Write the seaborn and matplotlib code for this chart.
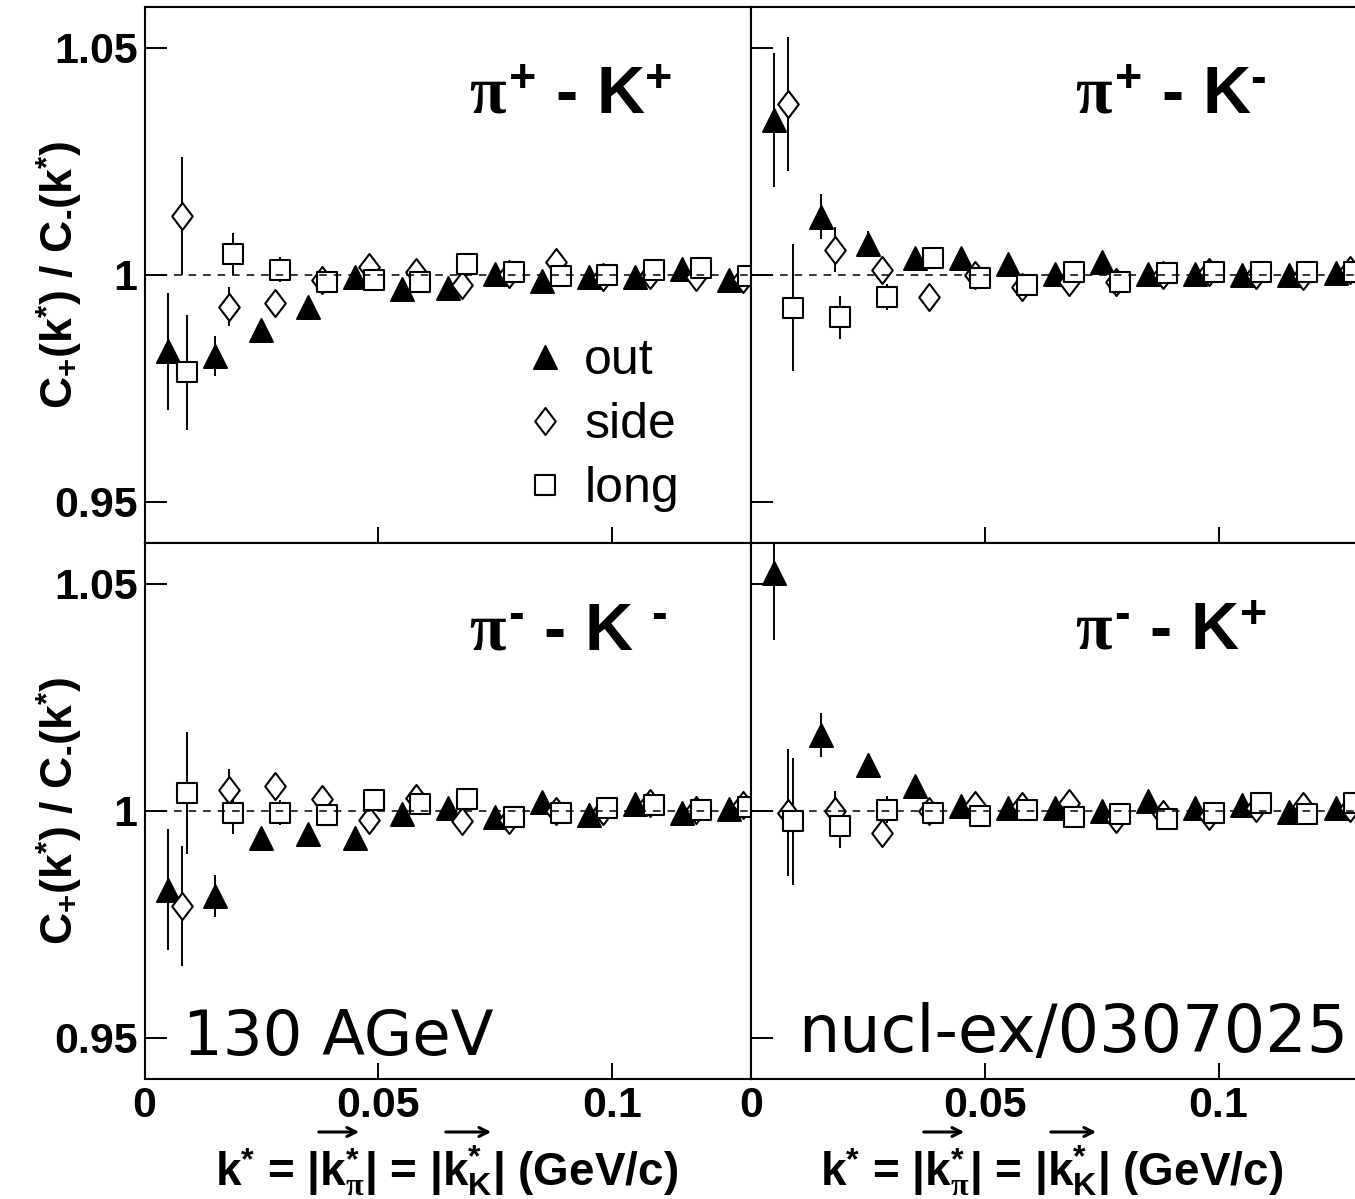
import matplotlib
matplotlib.use("Agg")
import numpy as np
import pandas as pd
import matplotlib.pyplot as plt
from matplotlib.path import Path
from matplotlib.patches import FancyArrowPatch
import seaborn as sns

# ---- bin centres of k* (GeV/c), slightly offset per projection ----
K_OUT = [0.005, 0.015, 0.025, 0.035, 0.045, 0.055, 0.065, 0.075, 0.085, 0.095, 0.105, 0.115, 0.125]
K_SIDE = [0.008, 0.018, 0.028, 0.038, 0.048, 0.058, 0.068, 0.078, 0.088, 0.098, 0.108, 0.118, 0.128]
K_LONG = [0.009, 0.019, 0.029, 0.039, 0.049, 0.059, 0.069, 0.079, 0.089, 0.099, 0.109, 0.119, 0.129]

# ---- pi+ K+ ----
PPKP_OUT = [0.9831, 0.9820, 0.9879, 0.9928, 0.9995, 0.9968, 0.9971, 1.0002, 0.9986, 0.9995, 0.9995, 1.0012, 0.9989]
PPKP_OUT_ERR = [0.0128, 0.0044, 0.0020, 0.0016, 0.0014, 0.0014, 0.0013, 0.0013, 0.0012, 0.0012, 0.0012, 0.0012, 0.0012]
PPKP_SIDE = [1.0130, 0.9930, 0.9938, 0.9989, 1.0018, 1.0007, 0.9978, 1.0002, 1.0029, 0.9995, 1.0000, 0.9995, 0.9990]
PPKP_SIDE_ERR = [0.0130, 0.0044, 0.0024, 0.0018, 0.0015, 0.0014, 0.0013, 0.0013, 0.0012, 0.0012, 0.0012, 0.0012, 0.0012]
PPKP_LONG = [0.9785, 1.0046, 1.0011, 0.9983, 0.9988, 0.9983, 1.0024, 1.0005, 0.9998, 1.0000, 1.0011, 1.0015, 0.9998]
PPKP_LONG_ERR = [0.0126, 0.0046, 0.0028, 0.0018, 0.0015, 0.0014, 0.0013, 0.0013, 0.0012, 0.0012, 0.0012, 0.0012, 0.0012]

# ---- pi+ K- ----
PPKM_OUT = [1.0341, 1.0128, 1.0068, 1.0037, 1.0037, 1.0023, 1.0002, 1.0027, 1.0002, 1.0001, 1.0000, 1.0000, 1.0004]
PPKM_OUT_ERR = [0.0148, 0.0050, 0.0028, 0.0018, 0.0015, 0.0014, 0.0013, 0.0013, 0.0012, 0.0012, 0.0012, 0.0012, 0.0012]
PPKM_SIDE = [1.0376, 1.0055, 1.0011, 0.9951, 1.0000, 0.9973, 0.9985, 0.9983, 1.0000, 1.0007, 1.0000, 0.9998, 1.0010]
PPKM_SIDE_ERR = [0.0148, 0.0050, 0.0026, 0.0018, 0.0015, 0.0014, 0.0013, 0.0013, 0.0012, 0.0012, 0.0012, 0.0012, 0.0012]
PPKM_LONG = [0.9927, 0.9906, 0.9951, 1.0037, 0.9993, 0.9978, 1.0007, 0.9985, 1.0004, 1.0005, 1.0007, 1.0005, 1.0007]
PPKM_LONG_ERR = [0.0140, 0.0048, 0.0029, 0.0018, 0.0015, 0.0014, 0.0013, 0.0013, 0.0012, 0.0012, 0.0012, 0.0012, 0.0012]

# ---- pi- K- ----
PMKM_OUT = [0.9826, 0.9812, 0.9940, 0.9949, 0.9939, 0.9992, 1.0007, 0.9986, 1.0020, 0.9991, 1.0015, 0.9995, 1.0004]
PMKM_OUT_ERR = [0.0133, 0.0046, 0.0022, 0.0016, 0.0014, 0.0014, 0.0013, 0.0013, 0.0012, 0.0012, 0.0012, 0.0012, 0.0012]
PMKM_SIDE = [0.9790, 1.0046, 1.0055, 1.0026, 0.9980, 1.0028, 0.9977, 0.9980, 0.9999, 0.9999, 1.0017, 1.0002, 1.0013]
PMKM_SIDE_ERR = [0.0132, 0.0046, 0.0024, 0.0018, 0.0015, 0.0014, 0.0013, 0.0013, 0.0012, 0.0012, 0.0012, 0.0012, 0.0012]
PMKM_LONG = [1.0039, 0.9995, 0.9996, 0.9991, 1.0023, 1.0015, 1.0026, 0.9986, 0.9995, 1.0006, 1.0013, 1.0001, 1.0009]
PMKM_LONG_ERR = [0.0135, 0.0046, 0.0028, 0.0018, 0.0015, 0.0014, 0.0013, 0.0013, 0.0012, 0.0012, 0.0012, 0.0012, 0.0012]

# ---- pi- K+ ----
PMKP_OUT = [1.0523, 1.0167, 1.0100, 1.0055, 1.0011, 1.0005, 1.0007, 0.9999, 1.0022, 1.0007, 1.0012, 0.9998, 1.0007]
PMKP_OUT_ERR = [0.0147, 0.0048, 0.0024, 0.0016, 0.0014, 0.0014, 0.0013, 0.0013, 0.0012, 0.0012, 0.0012, 0.0012, 0.0012]
PMKP_SIDE = [0.9996, 0.9999, 0.9952, 0.9999, 1.0013, 1.0011, 1.0017, 0.9982, 0.9993, 0.9988, 1.0006, 1.0011, 1.0006]
PMKP_SIDE_ERR = [0.0140, 0.0044, 0.0024, 0.0018, 0.0015, 0.0014, 0.0013, 0.0013, 0.0012, 0.0012, 0.0012, 0.0012, 0.0012]
PMKP_LONG = [0.9977, 0.9967, 1.0002, 0.9996, 0.9988, 1.0002, 0.9986, 0.9993, 0.9982, 0.9996, 1.0017, 0.9993, 1.0017]
PMKP_LONG_ERR = [0.0140, 0.0048, 0.0030, 0.0018, 0.0015, 0.0014, 0.0013, 0.0013, 0.0012, 0.0012, 0.0012, 0.0012, 0.0012]

PANELS = ["ppkp", "ppkm", "pmkm", "pmkp"]
HY = "\u2010"  # short hyphen used as the charge sign
PANEL_TITLES = [
    r"$\pi^{\mathbf{+}}$ - K$^{\mathbf{+}}$",
    r"$\pi^{\mathbf{+}}$ - K$^{\mathbf{" + HY + r"}}$",
    r"$\pi^{\mathbf{" + HY + r"}}$ - K $^{\mathbf{" + HY + r"}}$",
    r"$\pi^{\mathbf{" + HY + r"}}$ - K$^{\mathbf{+}}$",
]
PROJECTIONS = ["out", "side", "long"]
X_TICKS = [0.0, 0.05, 0.1]
X_TICK_LABELS = ["0", "0.05", "0.1"]
Y_TICKS = [0.95, 1.0, 1.05]
Y_TICK_LABELS = ["0.95", "1", "1.05"]

# ---- long-form table ----
series = {
    ("ppkp", "out"): (K_OUT, PPKP_OUT, PPKP_OUT_ERR),
    ("ppkp", "side"): (K_SIDE, PPKP_SIDE, PPKP_SIDE_ERR),
    ("ppkp", "long"): (K_LONG, PPKP_LONG, PPKP_LONG_ERR),
    ("ppkm", "out"): (K_OUT, PPKM_OUT, PPKM_OUT_ERR),
    ("ppkm", "side"): (K_SIDE, PPKM_SIDE, PPKM_SIDE_ERR),
    ("ppkm", "long"): (K_LONG, PPKM_LONG, PPKM_LONG_ERR),
    ("pmkm", "out"): (K_OUT, PMKM_OUT, PMKM_OUT_ERR),
    ("pmkm", "side"): (K_SIDE, PMKM_SIDE, PMKM_SIDE_ERR),
    ("pmkm", "long"): (K_LONG, PMKM_LONG, PMKM_LONG_ERR),
    ("pmkp", "out"): (K_OUT, PMKP_OUT, PMKP_OUT_ERR),
    ("pmkp", "side"): (K_SIDE, PMKP_SIDE, PMKP_SIDE_ERR),
    ("pmkp", "long"): (K_LONG, PMKP_LONG, PMKP_LONG_ERR),
}
frames = []
for (panel, proj), (k, v, e) in series.items():
    frames.append(pd.DataFrame({"panel": panel, "proj": proj, "k": k, "ratio": v, "err": e}))
df = pd.concat(frames, ignore_index=True)

# ---- style ----
sns.set_theme(style="ticks")
plt.rcParams.update({
    "font.family": ["Liberation Sans", "DejaVu Sans"],
    "font.weight": "bold",
    "text.color": "black",
    "axes.labelcolor": "black",
    "xtick.color": "black",
    "ytick.color": "black",
    "mathtext.fontset": "custom",
    "mathtext.rm": "Liberation Sans:bold",
    "mathtext.bf": "Liberation Sans:bold",
    "mathtext.it": "Liberation Serif",
    "mathtext.sf": "Liberation Sans:bold",
    "axes.linewidth": 1.5,
    "axes.edgecolor": "black",
})

DIAMOND = Path([(0, 1), (0.76, 0), (0, -1), (-0.76, 0), (0, 1)],
               [Path.MOVETO, Path.LINETO, Path.LINETO, Path.LINETO, Path.CLOSEPOLY])
MARKER_STYLE = {
    "out": dict(marker="^", s=275, color="black", edgecolor="black", linewidth=1.4),
    "side": dict(marker=DIAMOND, s=380, color="white", edgecolor="black", linewidth=1.5),
    "long": dict(marker="s", s=215, color="white", edgecolor="black", linewidth=1.5),
}

W, H = 1355, 1199
fig = plt.figure(figsize=(W / 100, H / 100), dpi=100)

ax_w = 606.5 / W
ax_h = 536.5 / H
lefts = [144.5 / W, 751 / W]
bottoms = [(H - 543) / H, (H - 1079) / H]
XLIM = (0.0, 0.1297)
YLIM = (0.9409, 1.0591)

axes = {}
for i, panel in enumerate(PANELS):
    row, col = divmod(i, 2)
    ax = fig.add_axes([lefts[col], bottoms[row], ax_w, ax_h])
    axes[panel] = ax
    sub = df[df["panel"] == panel]
    for proj in PROJECTIONS:
        d = sub[sub["proj"] == proj]
        ax.errorbar(d["k"], d["ratio"], yerr=d["err"], fmt="none",
                    ecolor="black", elinewidth=1.4, capsize=0, zorder=1)
        sns.scatterplot(data=d, x="k", y="ratio", ax=ax, zorder=2,
                        label=proj if panel == "ppkp" else None,
                        legend=False, **MARKER_STYLE[proj])
    ax.axhline(1.0, color="black", lw=1.1, dashes=(5, 4.5), zorder=3)
    ax.set_xlim(*XLIM)
    ax.set_ylim(*YLIM)
    ax.set_xticks(X_TICKS)
    ax.set_yticks(Y_TICKS)
    ax.set_xlabel("")
    ax.set_ylabel("")
    for s in ax.spines.values():
        s.set_visible(True)
        s.set_linewidth(1.5)
        s.set_color("black")
    ax.tick_params(axis="x", direction="in", length=11.5, width=1.4, pad=5,
                   labelsize=31, top=False)
    ax.tick_params(axis="y", direction="in", length=16, width=1.4, pad=5,
                   labelsize=31, right=False)
    if row == 1:
        ax.set_xticklabels(X_TICK_LABELS, fontweight="bold")
    else:
        ax.set_xticklabels([])
    if col == 0:
        ax.set_yticklabels(Y_TICK_LABELS, fontweight="bold")
    else:
        ax.set_yticklabels([])
    ax.text(0.535, 0.80, PANEL_TITLES[i], transform=ax.transAxes,
            fontsize=48, fontweight="bold", ha="left", va="baseline")

# legend of projections
leg = axes["ppkp"].legend(loc="upper left", bbox_to_anchor=(0.622, 0.382),
                          frameon=False, fontsize=36, handlelength=0.95,
                          handletextpad=0.3, labelspacing=0.36, borderpad=0,
                          borderaxespad=0, scatterpoints=1, scatteryoffsets=[0.5])
for t in leg.get_texts():
    t.set_fontweight("normal")

# energy and reference notes
axes["pmkm"].text(0.063, 0.045, "130 AGeV", transform=axes["pmkm"].transAxes,
                  fontsize=45, fontweight="normal", family="DejaVu Sans",
                  ha="left", va="baseline")
axes["pmkp"].text(0.077, 0.05, "nucl-ex/0307025", transform=axes["pmkp"].transAxes,
                  fontsize=47, fontweight="normal", family="DejaVu Sans",
                  ha="left", va="baseline")

# axis titles
ylab = (r"C$_{\mathbf{+}}$(k$^{\mathbf{*}}$) / C$_{\mathbf{" + HY + r"}}$(k$^{\mathbf{*}}$)")
for yc in [(H - 275) / H, (H - 811) / H]:
    fig.text(59 / W, yc, ylab, rotation=90, fontsize=32, fontweight="bold",
             ha="center", va="center")
xlab = (r"k$^{\mathbf{*}}$ = |k$^{\mathbf{*}}_{\pi}$| = "
        r"|k$^{\mathbf{*}}_{\mathbf{K}}$| (GeV/c)")
for xc in [447, 1052]:
    fig.text(xc / W, (H - 1185) / H, xlab, fontsize=33, fontweight="bold",
             ha="center", va="baseline")
    # vector arrows over the two momenta
    for x0, x1 in ((-131, -85), (-4, 47)):
        arrow = FancyArrowPatch(((xc + x0) / W, (H - 1132) / H),
                                ((xc + x1) / W, (H - 1132) / H),
                                transform=fig.transFigure, arrowstyle="->",
                                mutation_scale=16, lw=2.2, color="black")
        fig.add_artist(arrow)

fig.savefig("out.png", dpi=100)
